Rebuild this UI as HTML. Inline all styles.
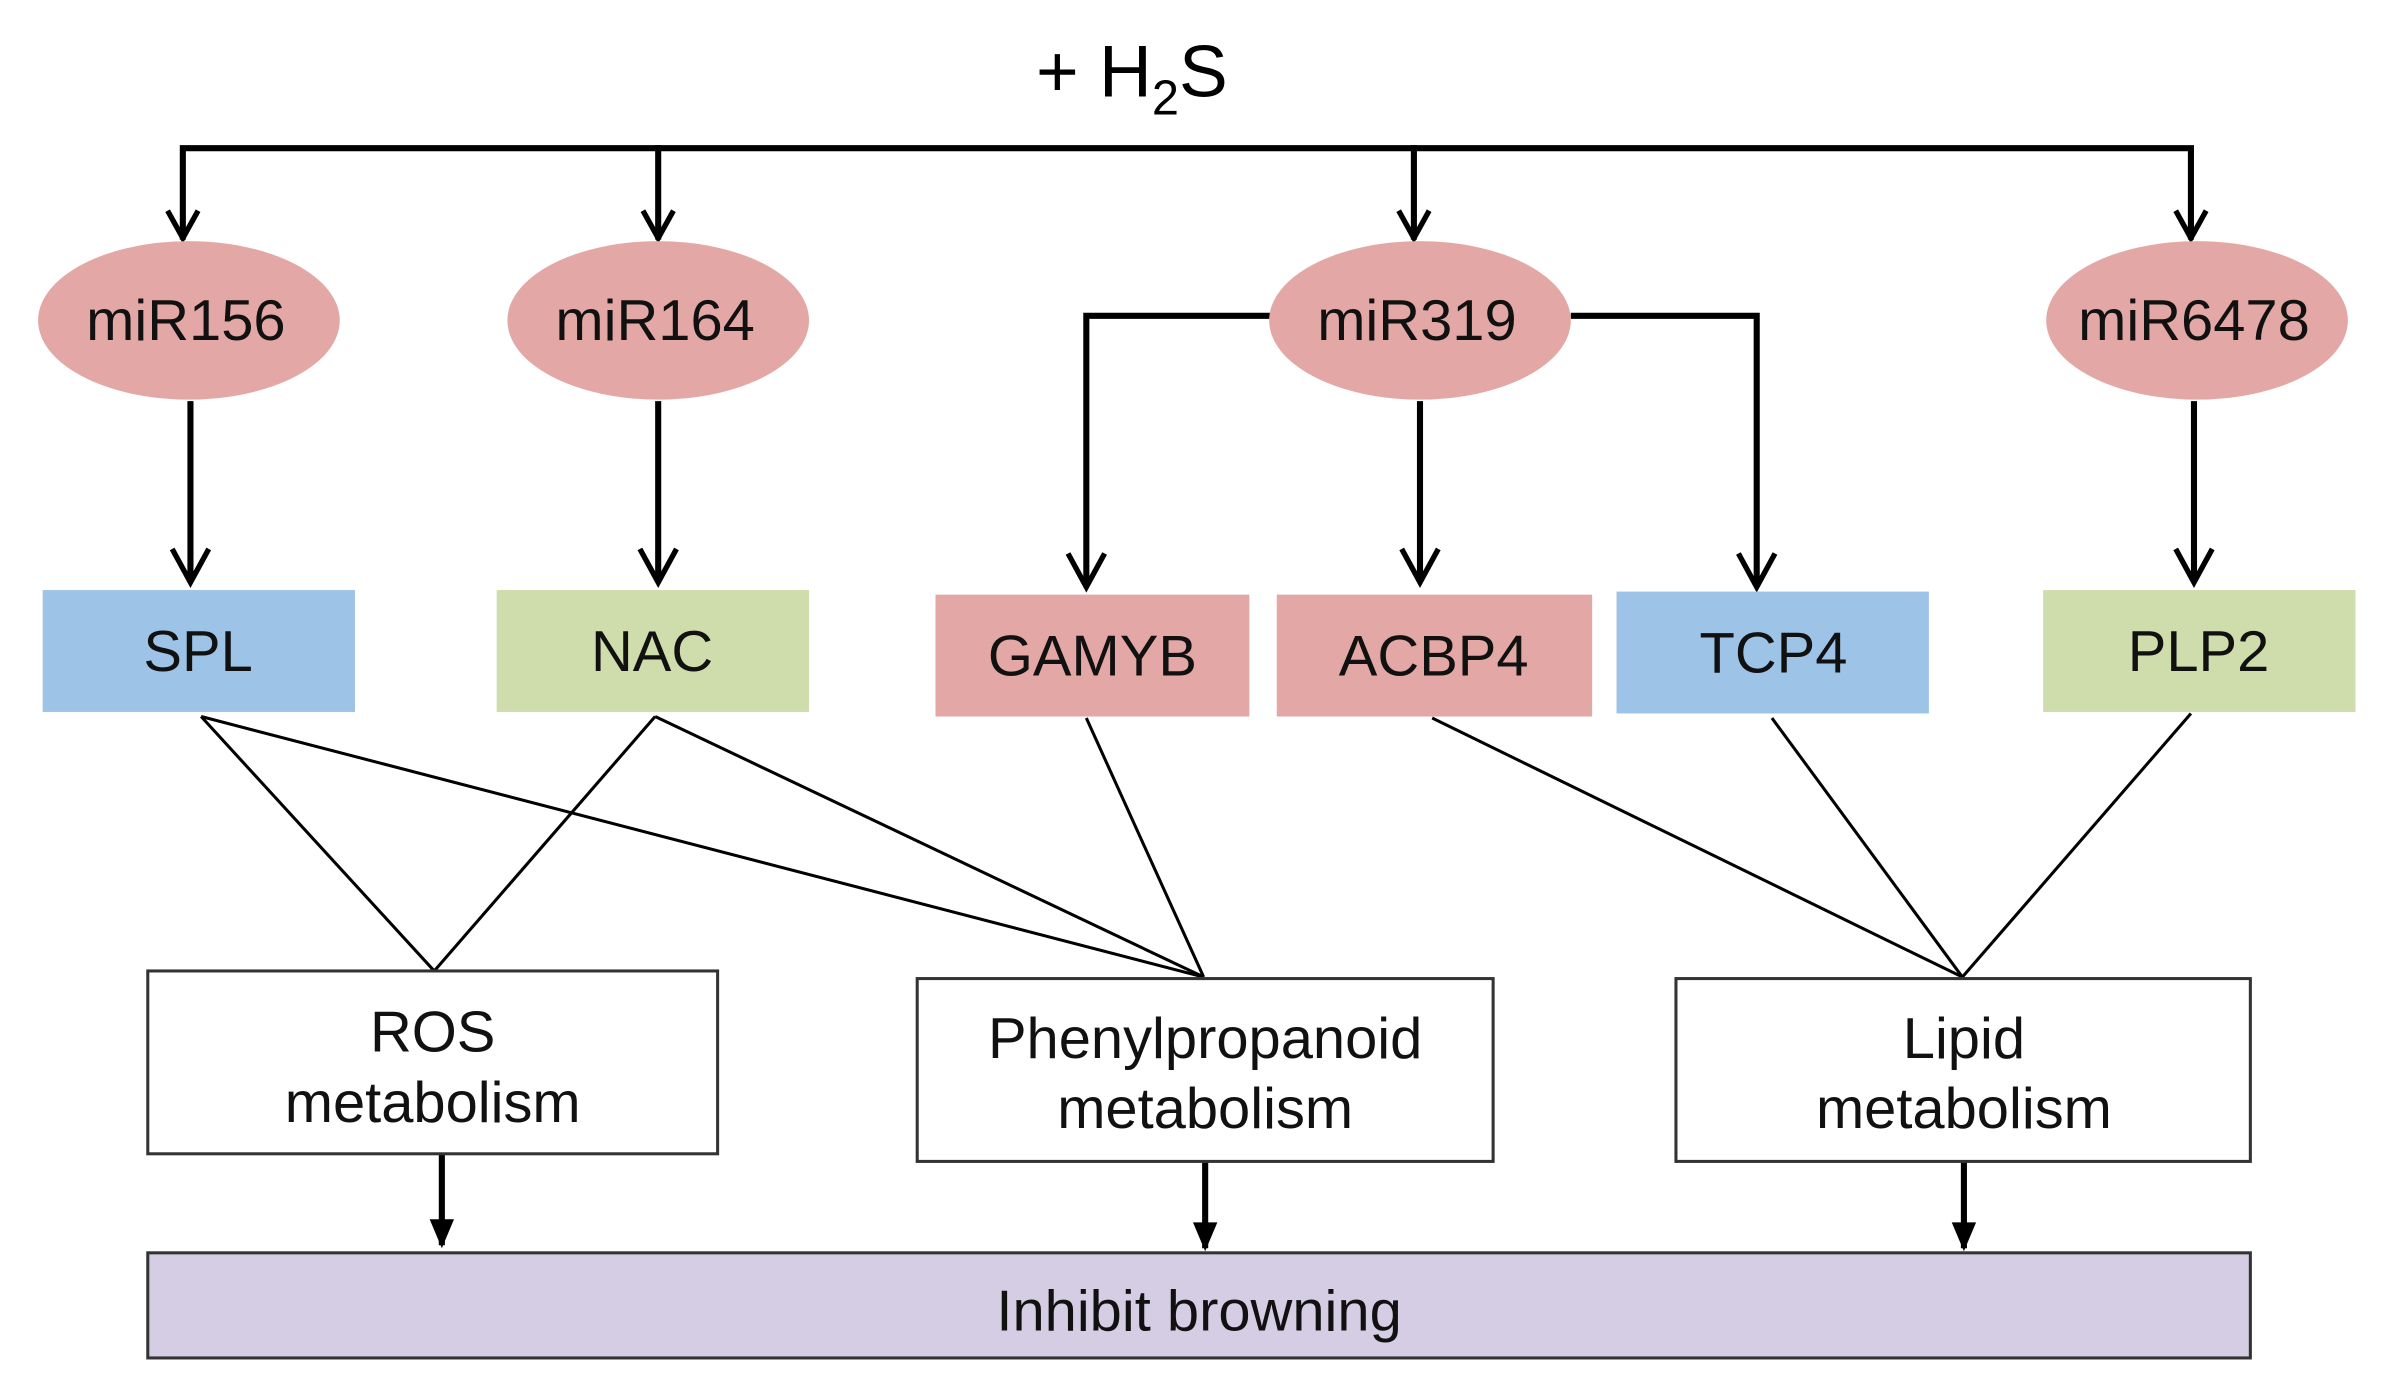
<!DOCTYPE html>
<html><head><meta charset="utf-8"><style>html,body{margin:0;padding:0;background:#fff}svg{display:block}</style></head>
<body>
<svg width="2389" height="1398" viewBox="0 0 1568 917" xmlns="http://www.w3.org/2000/svg" font-family="Liberation Sans, sans-serif">
<g stroke="#000" stroke-width="4" fill="none" stroke-linecap="square">
<polyline points="120,155 120,97 1438,97 1438,155"/>
<line x1="432" y1="97" x2="432" y2="155"/>
<line x1="928" y1="97" x2="928" y2="155"/>
<line x1="125" y1="265" x2="125" y2="380"/>
<line x1="432" y1="265" x2="432" y2="380"/>
<line x1="932" y1="265" x2="932" y2="380"/>
<line x1="1440" y1="265" x2="1440" y2="380"/>
<polyline points="835,207 713,207 713,383"/>
<polyline points="1033,207 1153,207 1153,383"/>
<line x1="290" y1="757" x2="290" y2="815"/>
<line x1="791" y1="762" x2="791" y2="817"/>
<line x1="1289" y1="762" x2="1289" y2="817"/>
</g>
<g stroke="#000" stroke-width="3.5" fill="none">
<polyline points="110,138 120,156 130,138"/>
<polyline points="422,138 432,156 442,138"/>
<polyline points="918,138 928,156 938,138"/>
<polyline points="1428,138 1438,156 1448,138"/>
<polyline points="113,360 125,382 137,360"/>
<polyline points="420,360 432,382 444,360"/>
<polyline points="920,360 932,382 944,360"/>
<polyline points="1428,360 1440,382 1452,360"/>
<polyline points="701,363 713,385 725,363"/>
<polyline points="1141,363 1153,385 1165,363"/>
</g>
<g fill="#000">
<path d="M282,800 L290,819 L298,800 Z"/>
<path d="M783,802 L791,821 L799,802 Z"/>
<path d="M1281,802 L1289,821 L1297,802 Z"/>
</g>
<text x="680" y="63" font-size="48">+ H<tspan font-size="32" dy="12">2</tspan><tspan dy="-12">S</tspan></text>
<g fill="#e3a8a6">
<ellipse cx="124" cy="210" rx="99" ry="52"/>
<ellipse cx="432" cy="210" rx="99" ry="52"/>
<ellipse cx="932" cy="210" rx="99" ry="52"/>
<ellipse cx="1442" cy="210" rx="99" ry="52"/>
</g>
<rect x="28" y="387" width="205" height="80" fill="#9dc3e6"/>
<rect x="326" y="387" width="205" height="80" fill="#cfdcab"/>
<rect x="614" y="390" width="206" height="80" fill="#e3a8a6"/>
<rect x="838" y="390" width="207" height="80" fill="#e3a8a6"/>
<rect x="1061" y="388" width="205" height="80" fill="#9dc3e6"/>
<rect x="1341" y="387" width="205" height="80" fill="#cfdcab"/>
<g stroke="#000" stroke-width="2" fill="none">
<line x1="132" y1="470" x2="285" y2="637"/>
<line x1="132" y1="470" x2="790" y2="641"/>
<line x1="430" y1="470" x2="285" y2="637"/>
<line x1="430" y1="470" x2="790" y2="641"/>
<line x1="713" y1="471" x2="790" y2="641"/>
<line x1="940" y1="471" x2="1288" y2="641"/>
<line x1="1163" y1="471" x2="1288" y2="641"/>
<line x1="1438" y1="468" x2="1288" y2="641"/>
</g>
<g stroke="#333" stroke-width="2" fill="#fff">
<rect x="97" y="637" width="374" height="120"/>
<rect x="602" y="642" width="378" height="120"/>
<rect x="1100" y="642" width="377" height="120"/>
<rect x="97" y="822" width="1380" height="69" fill="#d5cde3"/>
</g>
<g font-size="38" text-anchor="middle" fill="#111">
<text x="122" y="223">miR156</text>
<text x="430" y="223">miR164</text>
<text x="930" y="223">miR319</text>
<text x="1440" y="223">miR6478</text>
<text x="130" y="440">SPL</text>
<text x="428" y="440">NAC</text>
<text x="717" y="443">GAMYB</text>
<text x="941" y="443">ACBP4</text>
<text x="1164" y="441">TCP4</text>
<text x="1443" y="440">PLP2</text>
<text x="284" y="690">ROS</text>
<text x="284" y="736">metabolism</text>
<text x="791" y="694">Phenylpropanoid</text>
<text x="791" y="740">metabolism</text>
<text x="1289" y="694">Lipid</text>
<text x="1289" y="740">metabolism</text>
<text x="787" y="873">Inhibit browning</text>
</g>
</svg>
</body></html>
